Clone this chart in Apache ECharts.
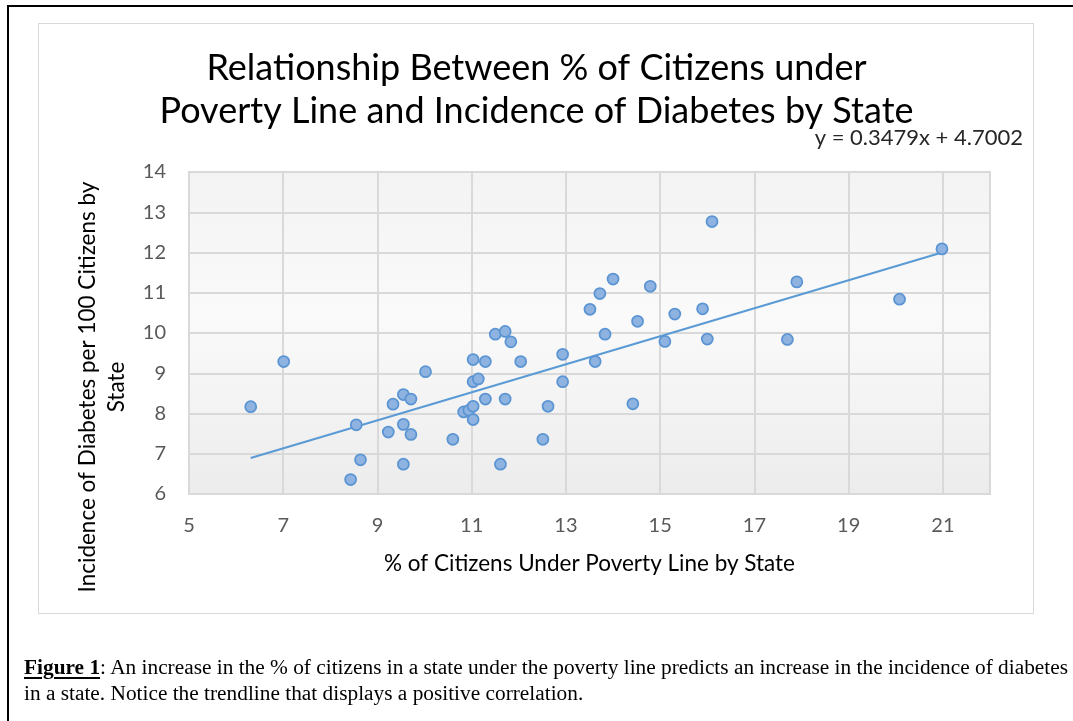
<!DOCTYPE html>
<html>
<head>
<meta charset="utf-8">
<title>Poverty and Diabetes by State</title>
<script src="https://cdn.jsdelivr.net/npm/echarts@6/dist/echarts.min.js"></script>
<style>
  html, body { margin: 0; padding: 0; width: 1073px; height: 721px; background: #fff; overflow: hidden; }
  #frame { position: absolute; left: 7px; top: 5px; width: 1200px; height: 900px;
           border-left: 2.5px solid #000; border-top: 2.5px solid #000; }
  #box { position: absolute; left: 38px; top: 23px; width: 994px; height: 589px;
         border: 1.5px solid #d9d9d9; background: #fff; }
  #chart { position: absolute; left: 0; top: 0; width: 1073px; height: 721px; }
  #caption { position: absolute; left: 24px; top: 654px; font-family: 'Liberation Serif', 'Times New Roman', serif;
             font-size: 20px; line-height: 26px; white-space: nowrap; color: #000; transform-origin: 0 0; }
  #caption u { text-decoration-thickness: 2px; text-underline-offset: 3px; }
</style>
</head>
<body>
<div id="frame"></div>
<div id="box"></div>
<div id="chart"></div>
<div id="caption"><span id="line1"><b><u>Figure 1</u></b>: An increase in the % of citizens in a state under the poverty line predicts an increase in the incidence of diabetes</span><br>in a state. Notice the trendline that displays a positive correlation.</div>
<script>
// % of citizens under the poverty line, one entry per state
const povertyPct = [
  6.31, 7.01, 8.55, 8.64, 8.43, 9.23, 9.33, 9.55, 9.71, 9.55,
  9.71, 9.55, 10.02, 10.60, 10.83, 10.94, 11.03, 11.03, 11.03, 11.29,
  11.03, 11.14, 11.29, 11.71, 11.50, 11.71, 11.83, 12.04, 11.61, 12.62,
  12.51, 12.93, 12.93, 13.51, 13.62, 13.72, 14.00, 13.83, 14.42, 14.52,
  14.79, 15.10, 15.31, 15.90, 16.00, 16.10, 17.70, 17.90, 20.08, 20.98
];
// diabetes incidence per 100 citizens, same order as povertyPct
const diabetesRate = [
  8.17, 9.29, 7.72, 6.85, 6.36, 7.54, 8.23, 8.47, 8.36, 7.73,
  7.48, 6.74, 9.04, 7.36, 8.04, 8.08, 8.18, 7.85, 9.34, 9.29,
  8.79, 8.86, 8.36, 8.36, 9.97, 10.04, 9.78, 9.29, 6.74, 8.18,
  7.36, 9.47, 8.79, 10.59, 9.29, 10.98, 11.34, 9.97, 8.24, 10.29,
  11.16, 9.79, 10.47, 10.60, 9.85, 12.77, 9.84, 11.27, 10.84, 12.09
];
// linear trendline coefficients
const trendSlope = 0.3479;
const trendIntercept = 4.7002;
// axis tick values
const xTicks = [5, 7, 9, 11, 13, 15, 17, 19, 21];
const yTicks = [6, 7, 8, 9, 10, 11, 12, 13, 14];

const titleText = 'Relationship Between % of Citizens under\nPoverty Line and Incidence of Diabetes by State';
const xAxisTitle = '% of Citizens Under Poverty Line by State';
const yAxisTitle = 'Incidence of Diabetes per 100 Citizens by\nState';
const equationText = 'y = ' + trendSlope.toFixed(4) + 'x + ' + trendIntercept.toFixed(4);

const points = povertyPct.map((x, i) => [x, diabetesRate[i]]);
const xLo = Math.min(...povertyPct), xHi = Math.max(...povertyPct);
const trendData = [xLo, xHi].map(x => [x, trendSlope * x + trendIntercept]);

const sans = 'Lato, "Open Sans", sans-serif';

const chart = echarts.init(document.getElementById('chart'), null, { renderer: 'canvas' });
chart.setOption({
  animation: false,
  backgroundColor: 'transparent',
  title: {
    text: titleText,
    left: 'center',
    top: 47,
    padding: 0,
    textStyle: { fontFamily: sans, fontSize: 36, lineHeight: 43, fontWeight: 'normal', color: '#000' }
  },
  grid: {
    left: 189, top: 172, width: 801, height: 322,
    containLabel: false, outerBoundsMode: 'none',
    show: true,
    borderColor: '#d9d9d9', borderWidth: 2,
    backgroundColor: {
      type: 'linear', x: 0, y: 0, x2: 0, y2: 1,
      colorStops: [
        { offset: 0, color: '#f3f3f3' },
        { offset: 0.45, color: '#fafafa' },
        { offset: 1, color: '#ececec' }
      ]
    }
  },
  xAxis: {
    type: 'value',
    min: 5, max: 22,
    name: xAxisTitle,
    nameLocation: 'middle',
    nameGap: 58,
    nameTextStyle: { fontFamily: sans, fontSize: 22.5, color: '#000' },
    axisLine: { show: false },
    axisTick: { show: false, customValues: xTicks },
    axisLabel: { customValues: xTicks, margin: 22, fontFamily: sans, fontSize: 20, color: '#595959' },
    splitLine: { show: true, lineStyle: { color: '#d9d9d9', width: 2 } }
  },
  yAxis: {
    type: 'value',
    min: 6, max: 14, interval: 1,
    axisLine: { show: false },
    axisTick: { show: false, customValues: yTicks },
    axisLabel: { customValues: yTicks, margin: 23, fontFamily: sans, fontSize: 20, color: '#595959' },
    splitLine: { show: true, lineStyle: { color: '#d9d9d9', width: 2 } }
  },
  graphic: [
    {
      type: 'text', x: 1023, y: 138,
      style: { text: equationText, fontFamily: sans, fontSize: 22, fill: '#262626', align: 'right', verticalAlign: 'middle' }
    },
    {
      type: 'text', x: 102, y: 387, rotation: Math.PI / 2,
      style: { text: yAxisTitle, fontFamily: sans, fontSize: 22.5, lineHeight: 29, fill: '#000', align: 'center', verticalAlign: 'middle' }
    }
  ],
  series: [
    {
      type: 'line',
      data: trendData,
      symbol: 'none',
      lineStyle: { color: '#5b9bd5', width: 2.25 },
      z: 2
    },
    {
      type: 'scatter',
      data: points,
      symbol: 'circle',
      symbolSize: 11,
      itemStyle: { color: '#8fb3e0', borderColor: '#5a94d3', borderWidth: 1.75, opacity: 1 },
      z: 3
    }
  ]
});

// fit the first caption line to the page width
const cap = document.getElementById('caption');
const w = document.getElementById('line1').getBoundingClientRect().width;
cap.style.transform = 'scaleX(' + (1044 / w) + ')';
</script>
</body>
</html>
